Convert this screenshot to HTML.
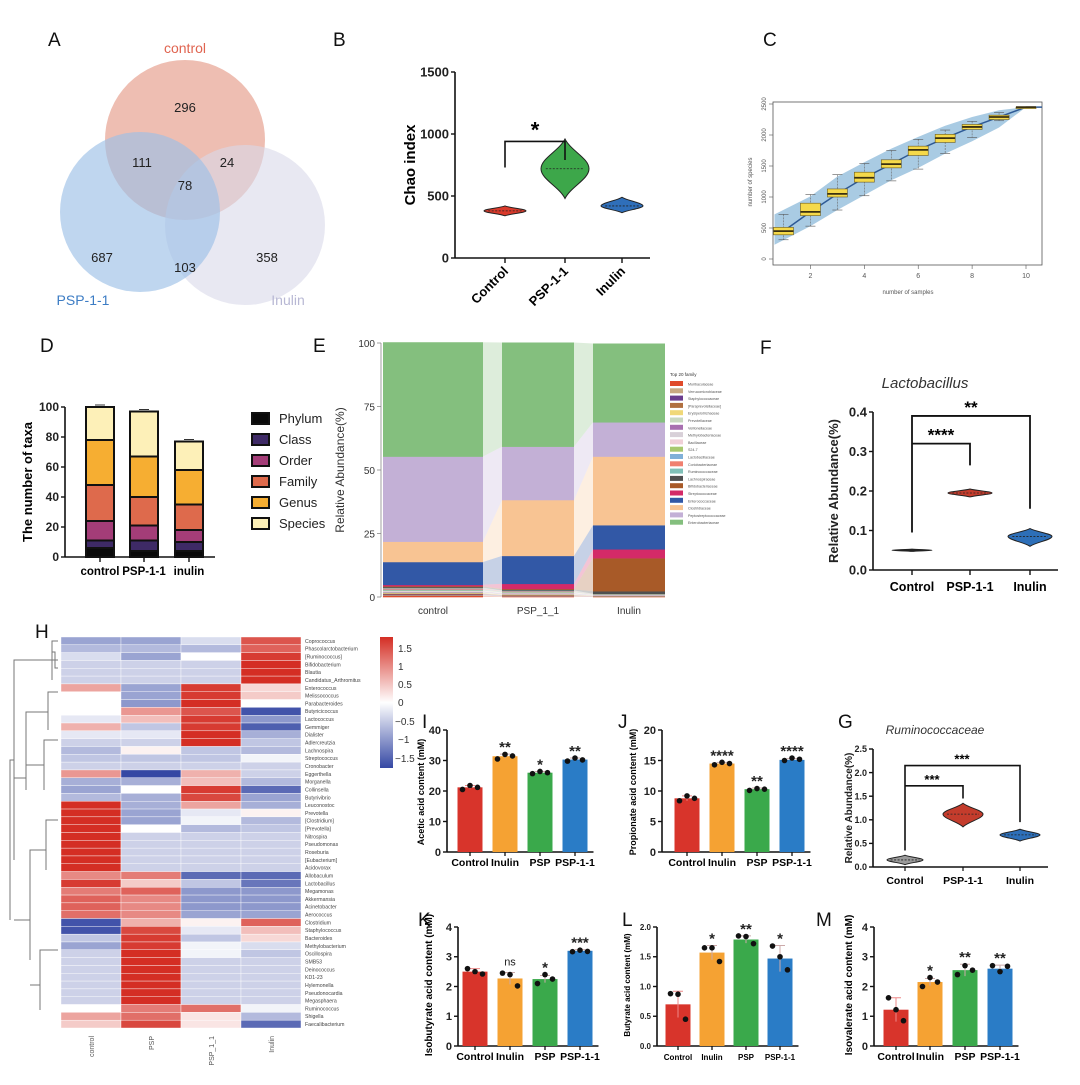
<!DOCTYPE html>
<html><head><meta charset="utf-8"><style>
html,body{margin:0;padding:0;background:#fff}
svg{display:block;font-family:"Liberation Sans",Arial,sans-serif}
.b{font-weight:bold}
</style></head><body>
<svg id="fig" width="1080" height="1085" viewBox="0 0 1080 1085" xmlns="http://www.w3.org/2000/svg">
<rect width="1080" height="1085" fill="#fff"/>
<g font-size="19" fill="#111">
<text x="48" y="46">A</text>
<text x="333" y="46">B</text>
<text x="763" y="46">C</text>
<text x="40" y="352">D</text>
<text x="313" y="352">E</text>
<text x="760" y="354">F</text>
<text x="35" y="638">H</text>
<text x="422" y="728">I</text>
<text x="618" y="728">J</text>
<text x="838" y="728">G</text>
<text x="418" y="926">K</text>
<text x="622" y="926">L</text>
<text x="816" y="926">M</text>
</g>
<g>
<circle cx="185" cy="140" r="80" fill="#e8a898" fill-opacity="0.75"/>
<circle cx="245" cy="225" r="80" fill="#d8d8ea" fill-opacity="0.6"/>
<circle cx="140" cy="212" r="80" fill="#9cc0e6" fill-opacity="0.65"/>
<g font-size="13" fill="#222" text-anchor="middle">
<text x="185" y="112">296</text><text x="142" y="167">111</text><text x="227" y="167">24</text>
<text x="185" y="190">78</text><text x="102" y="262">687</text><text x="185" y="272">103</text><text x="267" y="262">358</text>
</g>
<text x="185" y="53" font-size="14" fill="#e06450" text-anchor="middle">control</text>
<text x="83" y="305" font-size="14" fill="#3c7cc4" text-anchor="middle">PSP-1-1</text>
<text x="288" y="305" font-size="14" fill="#b8b8d4" text-anchor="middle">Inulin</text>
</g>
<text transform="translate(415,165) rotate(-90)" font-size="15" class="b" text-anchor="middle">Chao index</text>
<text transform="translate(752,182) rotate(-90)" font-size="6" fill="#555" text-anchor="middle">number of species</text>
<text x="908" y="294" font-size="6" fill="#555" text-anchor="middle">number of samples</text>
<text transform="translate(32,482) rotate(-90)" font-size="13" class="b" text-anchor="middle">The number of taxa</text>
<text transform="translate(344,470) rotate(-90)" font-size="12" fill="#333" text-anchor="middle">Relative Abundance(%)</text>
<text x="925" y="388" font-size="15" font-style="italic" fill="#333" text-anchor="middle">Lactobacillus</text>
<text transform="translate(838,491) rotate(-90)" font-size="13" class="b" fill="#222" text-anchor="middle">Relative Abundance(%)</text>
<text x="935" y="734" font-size="12" font-style="italic" fill="#333" text-anchor="middle">Ruminococcaceae</text>
<text transform="translate(852,808) rotate(-90)" font-size="10" class="b" fill="#222" text-anchor="middle">Relative Abundance(%)</text>
<text transform="translate(424,792) rotate(-90)" font-size="9" class="b" text-anchor="middle">Acetic acid content (mM)</text>
<text transform="translate(636,792) rotate(-90)" font-size="9" class="b" text-anchor="middle">Propionate acid content (mM)</text>
<text transform="translate(432,985) rotate(-90)" font-size="10" class="b" text-anchor="middle">Isobutyrate acid content (mM)</text>
<text transform="translate(630,985) rotate(-90)" font-size="8" class="b" text-anchor="middle">Butyrate acid content (mM)</text>
<text transform="translate(852,985) rotate(-90)" font-size="10" class="b" text-anchor="middle">Isovalerate acid content (mM)</text>
<path d="M58,641 H52 V680 M52,660 H14 V860 M58,660 H55 M58,660 H52 M58,668 H55 V652 H52 M58,692 H48 V730 M48,712 H26 V790 M58,740 H44 V790 M44,765 H26 M26,778 H14 M58,820 H46 V870 M46,850 H30 V960 M58,950 H40 V1010 M40,985 H30 M30,920 H14 M14,760 H10 V920" stroke="#777" stroke-width="1" fill="none"/>
<defs><linearGradient id="cb" x1="0" y1="0" x2="0" y2="1"><stop offset="0" stop-color="#d42e24"/><stop offset="0.5" stop-color="#ffffff"/><stop offset="1" stop-color="#3548a4"/></linearGradient></defs>
<rect x="380" y="637" width="13" height="131" fill="url(#cb)"/>
<g font-size="10" fill="#333">
<text x="398" y="652">1.5</text><text x="398" y="670">1</text><text x="398" y="688">0.5</text><text x="398" y="706">0</text><text x="395" y="725">−0.5</text><text x="398" y="743">−1</text><text x="395" y="762">−1.5</text>
</g>
</svg>
<script>
const svg = document.getElementById('fig');
const NS = 'http://www.w3.org/2000/svg';
function mk(tag, attrs, txt) {
  const e = document.createElementNS(NS, tag);
  for (const k in attrs) e.setAttribute(k, attrs[k]);
  if (txt !== undefined) e.textContent = txt;
  svg.appendChild(e);
  return e;
}
function lin(v, v0, v1, p0, p1) { return p0 + (v - v0) * (p1 - p0) / (v1 - v0); }

const chaoCats = ['Control', 'PSP-1-1', 'Inulin'];
const chaoMid = [380, 720, 420];
const chaoMin = [340, 480, 365];
const chaoMax = [420, 960, 490];
const chaoTicks = [0, 500, 1000, 1500];
const rareX = [1, 2, 3, 4, 5, 6, 7, 8, 9, 10];
const rareMed = [450, 760, 1050, 1310, 1530, 1760, 1950, 2130, 2290, 2450];
const rareQ1 = [390, 700, 1000, 1240, 1470, 1670, 1880, 2090, 2250, 2450];
const rareQ3 = [510, 900, 1130, 1400, 1600, 1820, 2010, 2170, 2320, 2450];
const rareLo = [310, 530, 790, 1020, 1260, 1450, 1700, 1960, 2230, 2450];
const rareHi = [720, 1040, 1360, 1540, 1750, 1930, 2080, 2220, 2360, 2450];
const rareBandLo = [230, 530, 790, 1030, 1270, 1470, 1700, 1900, 2120, 2450];
const rareBandHi = [720, 1010, 1330, 1560, 1780, 1970, 2150, 2290, 2400, 2450];
const rareYTicks = [0, 500, 1000, 1500, 2000, 2500];
const rareXTicks = [2, 4, 6, 8, 10];
const taxaGroups = ['control', 'PSP-1-1', 'inulin'];
const taxaLevels = ['Phylum', 'Class', 'Order', 'Family', 'Genus', 'Species'];
const taxaPhylum = [6, 4, 4];
const taxaClass = [5, 7, 6];
const taxaOrder = [13, 10, 8];
const taxaFamily = [24, 19, 17];
const taxaGenus = [30, 27, 23];
const taxaSpecies = [22, 30, 19];
const taxaTicks = [0, 20, 40, 60, 80, 100];
const famGroups = ['control', 'PSP_1_1', 'Inulin'];
const famNames = ['Muribaculaceae','Verrucomicrobiaceae','Staphylococcaceae','[Paraprevotellaceae]','Erysipelotrichaceae','Prevotellaceae','Veillonellaceae','Methylobacteriaceae','Bacillaceae','S24-7','Lactobacillaceae','Coriobacteriaceae','Ruminococcaceae','Lachnospiraceae','Bifidobacteriaceae','Streptococcaceae','Enterococcaceae','Clostridiaceae','Peptostreptococcaceae','Enterobacteriaceae'];
const famControl = [0.5,0.3,0.3,0.3,0.2,0.3,0.2,0.2,0.2,0.2,0.3,0.4,0.3,0.3,0.3,0.5,9,8,33.5,45];
const famPSP = [0.2,0.2,0.2,0.2,0.2,0.2,0.2,0.2,0.2,0.2,0.2,0.2,0.2,0.3,0.3,2,11,22,21,41];
const famInulin = [0.1,0.1,0.1,0.1,0.1,0.1,0.1,0.1,0.1,0.1,0.1,0.1,0.1,1,13,3.5,9.5,27,13.5,31];
const famTicks = [0, 25, 50, 75, 100];
const lactoCats = ['Control', 'PSP-1-1', 'Inulin'];
const lactoMid = [0.05, 0.195, 0.085];
const lactoMin = [0.047, 0.185, 0.06];
const lactoMax = [0.053, 0.205, 0.105];
const lactoTicks = [0.0, 0.1, 0.2, 0.3, 0.4];
const rumCats = ['Control', 'PSP-1-1', 'Inulin'];
const rumMid = [0.15, 1.12, 0.68];
const rumMin = [0.05, 0.85, 0.55];
const rumMax = [0.25, 1.35, 0.8];
const rumTicks = [0.0, 0.5, 1.0, 1.5, 2.0, 2.5];
const heatCols = ['control', 'PSP', 'PSP_1_1', 'Inulin'];
const heatRows = ['Coprococcus','Phascolarctobacterium','[Ruminococcus]','Bifidobacterium','Blautia','Candidatus_Arthromitus','Enterococcus','Melissococcus','Parabacteroides','Butyricicoccus','Lactococcus','Gemmiger','Dialister','Adlercreutzia','Lachnospira','Streptococcus','Cronobacter','Eggerthella','Morganella','Collinsella','Butyrivibrio','Leuconostoc','Prevotella','[Clostridium]','[Prevotella]','Nitrospira','Pseudomonas','Roseburia','[Eubacterium]','Acidovorax','Allobaculum','Lactobacillus','Megamonas','Akkermansia','Acinetobacter','Aerococcus','Clostridium','Staphylococcus','Bacteroides','Methylobacterium','Oscillospira','SMB53','Deinococcus','KD1-23','Hylemonella','Pseudonocardia','Megasphaera','Ruminococcus','Shigella','Faecalibacterium'];
const heatValues = [
[-0.8,-0.8,-0.3,1.3],[-0.6,-0.6,-0.6,1.2],[-0.3,-0.8,0,1.5],[-0.4,-0.4,-0.4,1.6],[-0.4,-0.4,-0.4,1.6],[-0.4,-0.4,-0.4,1.6],
[0.7,-0.8,1.5,0.3],[0,-0.8,1.5,0.4],[0,-0.9,1.6,0],[0,0.8,1.3,-1.5],[-0.2,0.5,1.5,-0.9],[0.6,-0.5,1.5,-1.4],[-0.2,-0.2,1.6,-0.7],[-0.4,-0.4,1.6,-0.5],
[-0.6,0.1,-0.5,-0.6],[-0.5,-0.5,-0.5,-0.1],[-0.4,-0.4,-0.4,-0.4],[0.8,-1.6,0.6,-0.4],[-0.7,-0.7,0.5,-0.6],[-0.8,0,1.5,-1.3],[-0.6,-0.7,1.4,-0.8],
[1.6,-0.7,0.7,-0.7],[1.6,-0.8,-0.2,0.1],[1.6,-0.8,-0.1,-0.6],[1.6,0,-0.6,-0.5],[1.6,-0.4,-0.4,-0.4],[1.6,-0.4,-0.4,-0.4],[1.6,-0.4,-0.4,-0.4],[1.6,-0.4,-0.4,-0.4],[1.6,-0.4,-0.4,-0.4],
[0.9,1.0,-1.3,-1.3],[1.5,0.4,-0.5,-1.2],[1.0,1.2,-0.9,-0.9],[1.2,0.9,-0.9,-0.9],[1.2,0.9,-0.9,-0.9],[1.1,0.9,-0.8,-0.8],
[-1.5,0.6,0.1,1.2],[-1.5,1.4,-0.2,0.5],[-0.5,1.5,-0.5,0.3],[-0.8,1.5,-0.1,-0.3],[-0.4,1.6,-0.1,-0.5],[-0.4,1.6,-0.4,-0.4],[-0.4,1.6,-0.4,-0.4],[-0.4,1.6,-0.4,-0.4],[-0.4,1.6,-0.4,-0.4],[-0.4,1.6,-0.4,-0.4],[-0.4,1.6,-0.4,-0.4],
[0,1.0,1.1,-0.1],[0.7,1.1,0.2,-0.6],[0.4,1.4,0.2,-1.3]];
const scfaCats = ['Control', 'Inulin', 'PSP', 'PSP-1-1'];
const aceticMean = [21.2, 31.4, 26.0, 30.3];
const aceticErr = [0.6, 0.7, 0.4, 0.5];
const aceticDots = [[20.5,21.8,21.2],[30.5,32,31.5],[25.7,26.4,26.0],[29.8,30.8,30.2]];
const aceticStars = ['', '**', '*', '**'];
const aceticTicks = [0, 10, 20, 30, 40];
const propMean = [8.8, 14.5, 10.3, 15.1];
const propErr = [0.4, 0.2, 0.2, 0.2];
const propDots = [[8.4,9.2,8.8],[14.3,14.7,14.5],[10.1,10.4,10.3],[15,15.4,15.2]];
const propStars = ['', '****', '**', '****'];
const propTicks = [0, 5, 10, 15, 20];
const isobMean = [2.5, 2.27, 2.25, 3.2];
const isobErr = [0.1, 0.2, 0.12, 0.04];
const isobDots = [[2.6,2.5,2.42],[2.45,2.4,2.02],[2.1,2.4,2.25],[3.17,3.22,3.18]];
const isobStars = ['', 'ns', '*', '***'];
const isobTicks = [0, 1, 2, 3, 4];
const butMean = [0.7, 1.57, 1.79, 1.47];
const butErr = [0.22, 0.12, 0.06, 0.22];
const butDots = [[0.88,0.87,0.45],[1.65,1.65,1.42],[1.85,1.84,1.72],[1.68,1.5,1.28]];
const butStars = ['', '*', '**', '*'];
const butTicks = [0, 0.5, 1.0, 1.5, 2.0];
const isovMean = [1.22, 2.15, 2.55, 2.6];
const isovErr = [0.4, 0.12, 0.2, 0.12];
const isovDots = [[1.62,1.22,0.85],[2.0,2.3,2.15],[2.4,2.7,2.55],[2.7,2.5,2.68]];
const isovStars = ['', '*', '**', '**'];
const isovTicks = [0, 1, 2, 3, 4];

function violin(cx, cy, top, bot, w, fill, name) {
  const ht = cy - top, hb = bot - cy;
  const d = `M${cx},${top} C${cx+w*0.25},${cy-ht*0.6} ${cx+w},${cy-ht*0.35} ${cx+w},${cy} C${cx+w},${cy+hb*0.35} ${cx+w*0.25},${cy+hb*0.6} ${cx},${bot} C${cx-w*0.25},${cy+hb*0.6} ${cx-w},${cy+hb*0.35} ${cx-w},${cy} C${cx-w},${cy-ht*0.35} ${cx-w*0.25},${cy-ht*0.6} ${cx},${top}Z`;
  const p = mk('path', {d: d, fill: fill, stroke: '#222', 'stroke-width': 1});
  
  
  const m = mk('line', {x1: cx - w*0.8, x2: cx + w*0.8, y1: cy, y2: cy, stroke: '#222', 'stroke-width': 0.8, 'stroke-dasharray': '2,1.5'});
  
  
}
function yAxis(x, ticks, yf, fs, fmt, name, bold) {
  const ax = mk('line', {x1: x, x2: x, y1: yf(ticks[ticks.length-1]), y2: yf(ticks[0]), stroke: '#111', 'stroke-width': 1.6});
  
  
  ticks.forEach(t => {
    mk('line', {x1: x - 4, x2: x, y1: yf(t), y2: yf(t), stroke: '#111', 'stroke-width': 1.4});
    const tx = mk('text', {x: x - 6, y: yf(t) + fs*0.35, 'font-size': fs, 'text-anchor': 'end', 'font-weight': bold === false ? 'normal' : 'bold', fill: '#222'}, fmt(t));
    
    
  });
}

(function () {
  const yB = v => lin(v, 0, 1500, 258, 72);
  const xB = [505, 565, 622];
  const cols = ['#d93a2b', '#3da74a', '#2f6fba'];
  yAxis(455, chaoTicks, yB, 13, t => String(t), 'chao-y-axis');
  const xa = mk('line', {x1: 455, x2: 650, y1: 258, y2: 258, stroke: '#111', 'stroke-width': 1.6});
  
  
  chaoCats.forEach((c, i) => {
    mk('line', {x1: xB[i], x2: xB[i], y1: 258, y2: 263, stroke: '#111', 'stroke-width': 1.4});
    violin(xB[i], yB(chaoMid[i]), yB(chaoMax[i]), yB(chaoMin[i]), i === 1 ? 24 : 21, cols[i], 'chao-violin-' + c.toLowerCase());
    const t = mk('text', {transform: `translate(${xB[i]+4},${272}) rotate(-45)`, 'font-size': 13, 'font-weight': 'bold', 'text-anchor': 'end'}, c);
    
    
  });
  const br = mk('path', {d: `M${xB[0]},${yB(730)} V${yB(940)} H${xB[1]} V${yB(790)}`, stroke: '#111', 'stroke-width': 1.6, fill: 'none'});
  
  
  const st = mk('text', {x: 535, y: yB(940) - 4, 'font-size': 22, 'font-weight': 'bold', 'text-anchor': 'middle'}, '*');
  
  
})();

(function () {
  const xC = v => lin(v, 1, 10, 783.5, 1026);
  const yC = v => lin(v, 0, 2500, 259, 104);
  const fr = mk('rect', {x: 773, y: 102, width: 269, height: 163, fill: 'none', stroke: '#555', 'stroke-width': 0.8});
  
  
  let pts = [];
  rareX.forEach((x, i) => pts.push(`${xC(x) + (i === 0 ? -9 : 0)},${yC(rareBandHi[i])}`));
  for (let i = rareX.length - 1; i >= 0; i--) pts.push(`${xC(rareX[i]) + (i === 0 ? -9 : 0)},${yC(rareBandLo[i])}`);
  const band = mk('polygon', {points: pts.join(' '), fill: '#a9cbe3'});
  
  
  const ln = mk('polyline', {points: rareX.map((x, i) => `${xC(x)},${yC(rareMed[i])}`).join(' ') + ` 1042,${yC(2450)}`, fill: 'none', stroke: '#2e5a96', 'stroke-width': 1.5});
  
  
  rareX.forEach((x, i) => {
    const cx = xC(x);
    mk('line', {x1: cx, x2: cx, y1: yC(rareHi[i]), y2: yC(rareLo[i]), stroke: '#666', 'stroke-width': 0.6, 'stroke-dasharray': '2,1'});
    mk('line', {x1: cx - 5, x2: cx + 5, y1: yC(rareHi[i]), y2: yC(rareHi[i]), stroke: '#555', 'stroke-width': 0.6});
    mk('line', {x1: cx - 5, x2: cx + 5, y1: yC(rareLo[i]), y2: yC(rareLo[i]), stroke: '#555', 'stroke-width': 0.6});
    const bx = mk('rect', {x: cx - 10, y: yC(rareQ3[i]), width: 20, height: Math.max(1.5, yC(rareQ1[i]) - yC(rareQ3[i])), fill: '#f5d94a', stroke: '#6a5a20', 'stroke-width': 0.6});
    
    
    mk('line', {x1: cx - 10, x2: cx + 10, y1: yC(rareMed[i]), y2: yC(rareMed[i]), stroke: '#3a3010', 'stroke-width': 1.8});
  });
  rareYTicks.forEach(t => {
    mk('line', {x1: 769, x2: 773, y1: yC(t), y2: yC(t), stroke: '#555', 'stroke-width': 0.6});
    const tx = mk('text', {transform: `translate(766,${yC(t)}) rotate(-90)`, 'font-size': 6, fill: '#555', 'text-anchor': 'middle'}, String(t));
    
    
  });
  rareXTicks.forEach(t => {
    mk('line', {x1: xC(t), x2: xC(t), y1: 265, y2: 269, stroke: '#555', 'stroke-width': 0.6});
    const tx = mk('text', {x: xC(t), y: 278, 'font-size': 7, fill: '#555', 'text-anchor': 'middle'}, String(t));
    
    
  });
})();

(function () {
  const yD = v => lin(v, 0, 100, 557, 407);
  const xD = [100, 144, 189];
  const layers = [taxaPhylum, taxaClass, taxaOrder, taxaFamily, taxaGenus, taxaSpecies];
  const cols = ['#0a0a0a', '#3e2a66', '#a43d78', '#de6a4c', '#f6ae32', '#fdf0b8'];
  yAxis(65, taxaTicks, yD, 12, t => String(t), 'taxa-y-axis');
  const xa = mk('line', {x1: 65, x2: 215, y1: 557, y2: 557, stroke: '#111', 'stroke-width': 1.6});
  
  
  taxaGroups.forEach((g, i) => {
    let acc = 0;
    layers.forEach((L, j) => {
      const r = mk('rect', {x: xD[i] - 14, y: yD(acc + L[i]), width: 28, height: yD(acc) - yD(acc + L[i]), fill: cols[j], stroke: '#111', 'stroke-width': 2});
      
      
      acc += L[i];
      if (j > 2) mk('line', {x1: xD[i] - 5, x2: xD[i] + 5, y1: yD(acc) - 2, y2: yD(acc) - 2, stroke: '#333', 'stroke-width': 1});
    });
    mk('line', {x1: xD[i], x2: xD[i], y1: 557, y2: 562, stroke: '#111', 'stroke-width': 1.4});
    const t = mk('text', {x: xD[i], y: 575, 'font-size': 11.5, 'font-weight': 'bold', 'text-anchor': 'middle'}, g);
    
    
  });
  taxaLevels.forEach((n, j) => {
    const sq = mk('rect', {x: 252, y: 413 + j * 21, width: 17, height: 11, fill: cols[j], stroke: '#111', 'stroke-width': 2});
    
    
    const t = mk('text', {x: 279, y: 423 + j * 21, 'font-size': 13, fill: '#222'}, n);
    
    
  });
})();

(function () {
  const yE = v => lin(v, 0, 100, 597, 343);
  const x0 = [383, 502, 593], x1 = [483, 574, 665];
  const cols = ['#e04a2a','#c8a882','#6b3d8e','#b07040','#f0d878','#c8d8c0','#a870b0','#d8d0d8','#f0d0d8','#a8c870','#80b0d8','#f08070','#80c0b8','#505050','#a85a28','#d42a68','#3258a6','#f8c493','#c3b0d6','#84bf7e'];
  const groups = [famControl, famPSP, famInulin];
  const cum = groups.map(G => { let a = 0; return G.map(v => { const r = [a, a + v]; a += v; return r; }); });
  for (let g = 0; g < 2; g++) {
    famNames.forEach((n, j) => {
      const a = cum[g][j], b = cum[g + 1][j];
      const pts = `${x1[g]},${yE(a[1])} ${x0[g+1]},${yE(b[1])} ${x0[g+1]},${yE(b[0])} ${x1[g]},${yE(a[0])}`;
      mk('polygon', {points: pts, fill: cols[j], 'fill-opacity': 0.28});
    });
  }
  groups.forEach((G, g) => {
    famNames.forEach((n, j) => {
      const r = mk('rect', {x: x0[g], y: yE(cum[g][j][1]), width: x1[g] - x0[g], height: yE(cum[g][j][0]) - yE(cum[g][j][1]) + 0.3, fill: cols[j]});
      
      
    });
    const t = mk('text', {x: (x0[g] + x1[g]) / 2, y: 614, 'font-size': 10, fill: '#333', 'text-anchor': 'middle'}, famGroups[g]);
    
    
  });
  mk('line', {x1: 381, x2: 381, y1: 343, y2: 597, stroke: '#888', 'stroke-width': 0.8});
  famTicks.forEach(t => {
    mk('line', {x1: 377, x2: 381, y1: yE(t), y2: yE(t), stroke: '#888', 'stroke-width': 0.8});
    const tx = mk('text', {x: 375, y: yE(t) + 4, 'font-size': 10, fill: '#333', 'text-anchor': 'end'}, String(t));
    
    
  });
  const lt = mk('text', {x: 670, y: 376, 'font-size': 4.5, fill: '#333'}, 'Top 20 family');
  
  
  famNames.forEach((n, j) => {
    const sq = mk('rect', {x: 670, y: 381 + j * 7.3, width: 13, height: 5, fill: cols[j]});
    
    
    const t = mk('text', {x: 688, y: 385.5 + j * 7.3, 'font-size': 3.6, fill: '#555'}, n);
    
    
  });
})();

(function () {
  const yF = v => lin(v, 0, 0.4, 570, 412);
  const xF = [912, 970, 1030];
  const cols = ['#222', '#c43c2c', '#2d6fb8'];
  yAxis(873, lactoTicks, yF, 13, t => t.toFixed(1), 'lacto-y-axis');
  const xa = mk('line', {x1: 873, x2: 1058, y1: 570, y2: 570, stroke: '#111', 'stroke-width': 1.6});
  
  
  lactoCats.forEach((c, i) => {
    mk('line', {x1: xF[i], x2: xF[i], y1: 570, y2: 575, stroke: '#111', 'stroke-width': 1.4});
    violin(xF[i], yF(lactoMid[i]), yF(lactoMax[i]), yF(lactoMin[i]), i === 0 ? 20 : 22, cols[i], 'lacto-violin-' + c.toLowerCase());
    const t = mk('text', {x: xF[i], y: 591, 'font-size': 12.5, 'font-weight': 'bold', 'text-anchor': 'middle'}, c);
    
    
  });
  const b1 = mk('path', {d: `M${xF[0]},${yF(0.095)} V${yF(0.39)} H${xF[2]} V${yF(0.155)} M${xF[0]},${yF(0.32)} H${xF[1]} V${yF(0.265)}`, stroke: '#111', 'stroke-width': 1.8, fill: 'none'});
  
  
  const s1 = mk('text', {x: 941, y: yF(0.32) - 3, 'font-size': 17, 'font-weight': 'bold', 'text-anchor': 'middle'}, '****');
  
  
  const s2 = mk('text', {x: 971, y: yF(0.39) - 3, 'font-size': 17, 'font-weight': 'bold', 'text-anchor': 'middle'}, '**');
  
  
})();

(function () {
  const yG = v => lin(v, 0, 2.5, 867, 749);
  const xG = [905, 963, 1020];
  const cols = ['#9a9a9a', '#c43c2c', '#2d6fb8'];
  yAxis(873, rumTicks, yG, 9, t => t.toFixed(1), 'rumino-y-axis');
  const xa = mk('line', {x1: 873, x2: 1048, y1: 867, y2: 867, stroke: '#111', 'stroke-width': 1.4});
  
  
  rumCats.forEach((c, i) => {
    mk('line', {x1: xG[i], x2: xG[i], y1: 867, y2: 871, stroke: '#111', 'stroke-width': 1.2});
    violin(xG[i], yG(rumMid[i]), yG(rumMax[i]), yG(rumMin[i]), i === 0 ? 18 : 20, cols[i], 'rumino-violin-' + c.toLowerCase());
    const t = mk('text', {x: xG[i], y: 884, 'font-size': 10.5, 'font-weight': 'bold', 'text-anchor': 'middle'}, c);
    
    
  });
  const b = mk('path', {d: `M${xG[0]},${yG(0.35)} V${yG(2.15)} H${xG[2]} V${yG(0.95)} M${xG[0]},${yG(1.72)} H${xG[1]} V${yG(1.45)}`, stroke: '#111', 'stroke-width': 1.6, fill: 'none'});
  
  
  const s1 = mk('text', {x: 932, y: yG(1.72) - 2, 'font-size': 13, 'font-weight': 'bold', 'text-anchor': 'middle'}, '***');
  
  
  const s2 = mk('text', {x: 962, y: yG(2.15) - 2, 'font-size': 13, 'font-weight': 'bold', 'text-anchor': 'middle'}, '***');
  
  
})();

(function () {
  const rh = (1028 - 637) / heatRows.length;
  const cx0 = 61, cw = 60;
  function col(v) {
    const t = Math.max(-1, Math.min(1, v / 1.6));
    const red = [212, 46, 36], blue = [53, 72, 164];
    const c = t >= 0 ? red : blue, a = Math.abs(t);
    const f = i => Math.round(255 + (c[i] - 255) * a);
    return `rgb(${f(0)},${f(1)},${f(2)})`;
  }
  heatValues.forEach((row, r) => {
    row.forEach((v, c) => {
      const cell = mk('rect', {x: cx0 + c * cw, y: 637 + r * rh, width: cw, height: rh, fill: col(v), stroke: '#fff', 'stroke-width': 0.4});
      
      
    });
    const t = mk('text', {x: 305, y: 637 + r * rh + rh * 0.75, 'font-size': 5.2, fill: '#444'}, heatRows[r]);
    
    
  });
  heatCols.forEach((n, c) => {
    const t = mk('text', {transform: `translate(${cx0 + c * cw + cw/2 + 3},1036) rotate(-90)`, 'font-size': 7, fill: '#555', 'text-anchor': 'end'}, n);
    
    
  });
})();

const barCols = ['#d8342b', '#f5a233', '#3aa94b', '#2a7cc6'];
function barChart(axX, y0, yTop, vMax, xs, bw, means, errs, dots, stars, ticks, tickFs, fmt, labY, labFs, name) {
  const yf = v => lin(v, 0, vMax, y0, yTop);
  yAxis(axX, ticks, yf, tickFs, fmt, name + '-y-axis');
  const xa = mk('line', {x1: axX, x2: xs[3] + bw/2 + 6, y1: y0, y2: y0, stroke: '#111', 'stroke-width': 1.6});
  
  
  scfaCats.forEach((c, i) => {
    const b = mk('rect', {x: xs[i] - bw/2, y: yf(means[i]), width: bw, height: y0 - yf(means[i]), fill: barCols[i]});
    
    
    const eb = mk('path', {d: `M${xs[i]},${yf(means[i]-errs[i])} V${yf(means[i]+errs[i])} M${xs[i]-5},${yf(means[i]+errs[i])} H${xs[i]+5}`, stroke: barCols[i] === '#d8342b' ? '#e88' : '#caa', 'stroke-width': 1, fill: 'none'});
    
    
    dots[i].forEach((d, k) => {
      const dt = mk('circle', {cx: xs[i] + (k - 1) * bw * 0.3, cy: yf(d), r: 2.8, fill: '#111'});
      
      
    });
    mk('line', {x1: xs[i], x2: xs[i], y1: y0, y2: y0 + 4, stroke: '#111', 'stroke-width': 1.3});
    const top = Math.min(yf(means[i] + errs[i]), ...dots[i].map(yf));
    if (stars[i]) {
      const st = mk('text', {x: xs[i], y: top - (stars[i] === 'ns' ? 7 : 2), 'font-size': stars[i] === 'ns' ? 11 : 15, 'font-weight': stars[i] === 'ns' ? 'normal' : 'bold', fill: '#222', 'text-anchor': 'middle'}, stars[i]);
      
      
    }
    const lb = mk('text', {x: xs[i], y: labY, 'font-size': labFs, 'font-weight': 'bold', 'text-anchor': 'middle'}, c);
    
    
  });
}
barChart(447, 852, 730, 40, [470, 505, 540, 575], 25, aceticMean, aceticErr, aceticDots, aceticStars, aceticTicks, 11, t => String(t), 866, 10.5, 'acetic');
barChart(662, 852, 730, 20, [687, 722, 757, 792], 25, propMean, propErr, propDots, propStars, propTicks, 11, t => String(t), 866, 10.5, 'propionate');
barChart(458, 1046, 927, 4, [475, 510, 545, 580], 25, isobMean, isobErr, isobDots, isobStars, isobTicks, 11, t => String(t), 1060, 10.5, 'isobutyrate');
barChart(657, 1046, 927, 2, [678, 712, 746, 780], 25, butMean, butErr, butDots, butStars, butTicks, 8, t => t.toFixed(1), 1060, 8, 'butyrate');
barChart(874, 1046, 927, 4, [896, 930, 965, 1000], 25, isovMean, isovErr, isovDots, isovStars, isovTicks, 11, t => String(t), 1060, 10.5, 'isovalerate');
</script>
</body></html>
